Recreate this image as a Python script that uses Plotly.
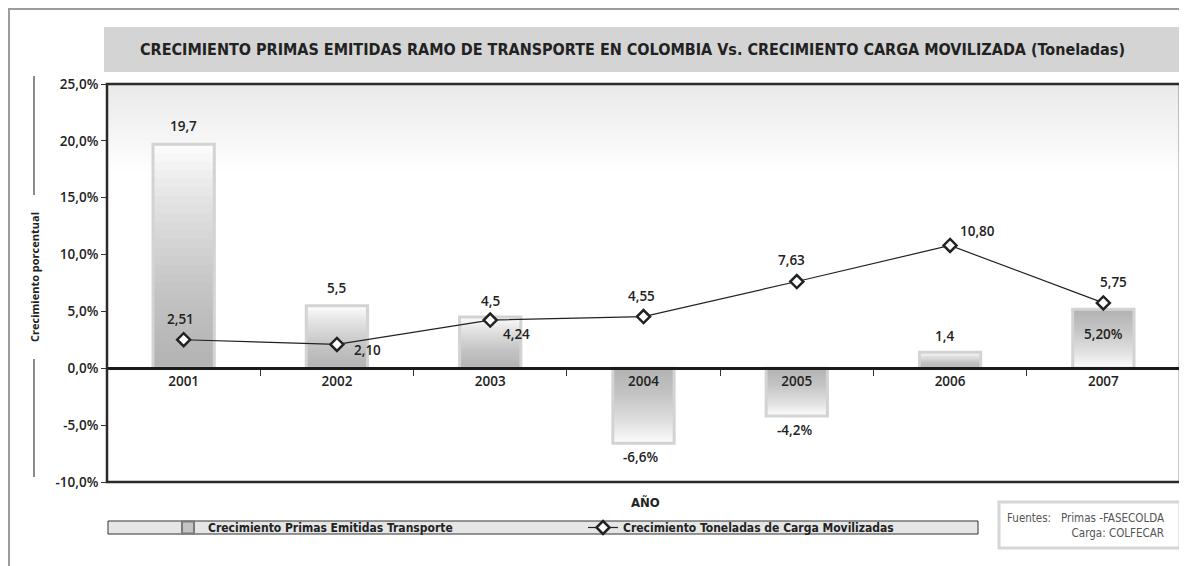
import plotly.graph_objects as go

# ---------------- data ----------------
years = ["2001", "2002", "2003", "2004", "2005", "2006", "2007"]
primas = [19.7, 5.5, 4.5, -6.6, -4.2, 1.4, 5.2]
primas_labels = ["19,7", "5,5", "4,5", "-6,6%", "-4,2%", "1,4", "5,20%"]
carga = [2.51, 2.10, 4.24, 4.55, 7.63, 10.80, 5.75]
y_ticks = [-10, -5, 0, 5, 10, 15, 20, 25]

name_primas = "Crecimiento Primas Emitidas Transporte"
name_carga = "Crecimiento Toneladas de Carga Movilizadas"
title_text = ("CRECIMIENTO PRIMAS EMITIDAS RAMO DE TRANSPORTE EN COLOMBIA Vs. "
              "CRECIMIENTO CARGA MOVILIZADA (Toneladas)")

# ---------------- styling ----------------
reverse_gradient = [False, False, False, False, False, False, True]
bar_label_shift = [(0, 18), (0, 18), (0, 16), (-3, -14), (-2, -14), (-6, 16), (0, -25)]
line_label_shift = [(-3, 21), (31, -6), (26, -14), (-2, 21), (-5, 22), (27, 14), (10, 21)]

NARROW = "Liberation Sans Narrow, DejaVu Sans Condensed, Arial Narrow, sans-serif"
SANS = "Open Sans, Lato, DejaVu Sans, sans-serif"
DARK = "#222222"

# screen geometry (the page body adds an 8px margin)
SCREEN_W, SCREEN_H, BODY = 1187, 566, 8
W, H = SCREEN_W - BODY, SCREEN_H - BODY
L, R, T, B = 107, 1180, 84, 482   # plot area in screen pixels


def px(x):
    return (x - L) / (R - L)


def py(y):
    return (B - y) / (B - T)


fig = go.Figure()

BAR_W = 0.40
# opaque white base of each bar
fig.add_trace(go.Bar(x=years, y=primas, width=BAR_W, marker=dict(color="white", line=dict(width=0)),
                     showlegend=False, hoverinfo="skip"))
# gradient layers (overlapping translucent bars anchored at the dark end)
N = 26
for i in range(N):
    f = i / N
    ys, bases = [], []
    for v, rev in zip(primas, reverse_gradient):
        ys.append(v * (1 - f))
        bases.append(v * f if rev else 0)
    fig.add_trace(go.Bar(x=years, y=ys, base=bases, width=BAR_W,
                         marker=dict(color="rgba(140,140,142,0.034)", line=dict(width=0)),
                         showlegend=False, hoverinfo="skip"))
# bar borders
fig.add_trace(go.Bar(x=years, y=primas, width=BAR_W,
                     marker=dict(color="rgba(0,0,0,0)", line=dict(color="#d3d3d3", width=3)),
                     showlegend=False, hoverinfo="skip"))
# legend entry for bars
fig.add_trace(go.Bar(x=[years[0]], y=[None], name=name_primas,
                     marker=dict(color="#c4c4c4", line=dict(color="#7a7a7a", width=2)),
                     showlegend=True, hoverinfo="skip"))
# line series
fig.add_trace(go.Scatter(x=years, y=carga, mode="lines+markers", name=name_carga,
                         line=dict(color=DARK, width=1.2),
                         marker=dict(symbol="diamond", size=10, color="white",
                                     line=dict(color=DARK, width=2.5))))

LABEL_FONT = dict(family=SANS, size=13.5, color=DARK, weight=600)
annotations = []
for i, (v, lab, (dx, dy)) in enumerate(zip(primas, primas_labels, bar_label_shift)):
    annotations.append(dict(x=i, y=v, xref="x", yref="y", text=lab, showarrow=False,
                            xshift=dx, yshift=dy, font=LABEL_FONT))
for i, (v, (dx, dy)) in enumerate(zip(carga, line_label_shift)):
    annotations.append(dict(x=i, y=v, xref="x", yref="y", text=f"{v:.2f}".replace(".", ","),
                            showarrow=False, xshift=dx, yshift=dy, font=LABEL_FONT))

annotations += [
    dict(x=px(632), y=py(50), xref="paper", yref="paper", text=title_text, showarrow=False,
         xanchor="center", yanchor="middle",
         font=dict(family=NARROW, size=16, color=DARK, weight="bold")),
    dict(x=px(34), y=py(277), xref="paper", yref="paper", text="Crecimiento porcentual",
         textangle=-90, showarrow=False, xanchor="center", yanchor="middle",
         font=dict(family=SANS, size=11, color=DARK, weight=700)),
    dict(x=px(645), y=py(502), xref="paper", yref="paper", text="AÑO", showarrow=False,
         xanchor="center", yanchor="middle",
         font=dict(family=NARROW, size=13, color=DARK, weight="bold")),
    dict(x=px(1166), y=py(525), xref="paper", yref="paper", xanchor="right", yanchor="middle",
         align="right", showarrow=False,
         text="Fuentes:\u00a0\u00a0 Primas -FASECOLDA<br>Carga: COLFECAR",
         font=dict(family=NARROW, size=11.5, color="#555555")),
]

shapes = [
    # outer border
    dict(type="rect", xref="paper", yref="paper", x0=px(9), x1=px(1205), y0=py(590), y1=py(9),
         line=dict(color="#9c9c9c", width=2), fillcolor="rgba(0,0,0,0)", layer="below"),
    # title band
    dict(type="rect", xref="paper", yref="paper", x0=px(104), x1=px(1180), y0=py(72), y1=py(27),
         line=dict(width=0), fillcolor="#d4d4d4", layer="below"),
    # legend box
    dict(type="rect", xref="paper", yref="paper", x0=px(108), x1=px(978), y0=py(534), y1=py(521),
         line=dict(color="#333333", width=1), fillcolor="#e6e6e6", layer="below"),
    # sources box
    dict(type="rect", xref="paper", yref="paper", x0=px(999), x1=px(1180), y0=py(548), y1=py(502),
         line=dict(color="#d6d6d6", width=3), fillcolor="white", layer="below"),
    # decorative lines by the y title
    dict(type="line", xref="paper", yref="paper", x0=px(34), x1=px(34), y0=py(195), y1=py(76),
         line=dict(color="#8a8a8a", width=2)),
    dict(type="line", xref="paper", yref="paper", x0=px(34), x1=px(34), y0=py(477), y1=py(359),
         line=dict(color="#8a8a8a", width=2)),
]
# soft gradient at top of plot area
for k in range(22):
    shapes.append(dict(type="rect", xref="paper", yref="paper", x0=0, x1=1, y0=py(84 + 4 * (k + 1)), y1=1,
                       line=dict(width=0), fillcolor="rgba(160,160,160,0.012)", layer="below"))
# plot frame
shapes.append(dict(type="rect", xref="paper", yref="paper", x0=0, x1=1, y0=0, y1=1,
                   line=dict(color="#2a2a2a", width=2.5), fillcolor="rgba(0,0,0,0)", layer="above"))

fig.update_layout(
    width=W, height=H,
    margin=dict(l=L - BODY, r=SCREEN_W - R, t=T - BODY, b=SCREEN_H - B),
    paper_bgcolor="white", plot_bgcolor="white",
    barmode="overlay",
    showlegend=True,
    legend=dict(orientation="h", x=px(168), y=py(527.5), xanchor="left", yanchor="middle",
                bgcolor="rgba(0,0,0,0)", entrywidth=370, entrywidthmode="pixels",
                font=dict(family=NARROW, size=12, color=DARK, weight="bold"),
                traceorder="normal", itemclick=False),
    xaxis=dict(type="category", anchor="free", position=10 / 35, showline=True, linecolor="#1a1a1a",
               linewidth=3, ticks="outside", tickson="boundaries", ticklen=6, tickcolor="#333333",
               tickwidth=1, showgrid=False, zeroline=False,
               tickfont=dict(family=SANS, size=13.5, color=DARK, weight=600), range=[-0.5, 6.5]),
    yaxis=dict(range=[-10, 25], tickvals=y_ticks,
               ticktext=[f"{v:.1f}".replace(".", ",") + "%" for v in y_ticks],
               ticks="outside", ticklen=5, tickcolor="#333333", showgrid=False, zeroline=False,
               showline=False, tickfont=dict(family=SANS, size=13.5, color=DARK, weight=600)),
    shapes=shapes,
    annotations=annotations,
)

fig.write_html("out.html")
